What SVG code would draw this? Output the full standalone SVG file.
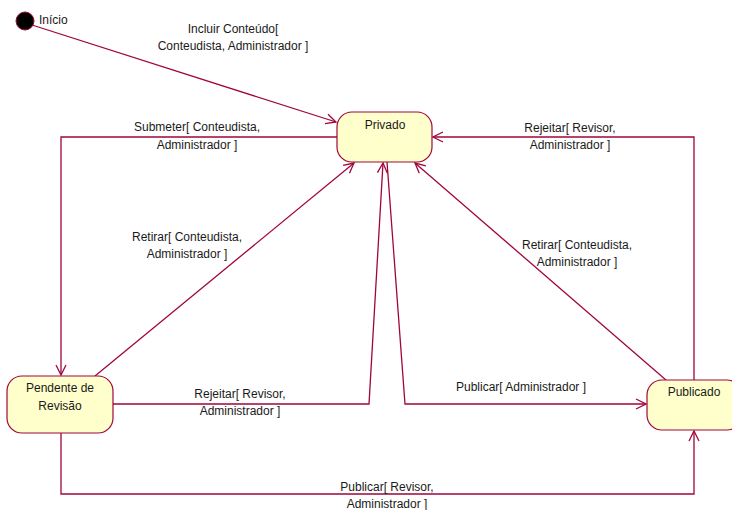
<svg xmlns="http://www.w3.org/2000/svg" width="732" height="510" viewBox="0 0 732 510">
<style>
.node{fill:#FFFFCC;stroke:#A0063C;stroke-width:1.2}
.edge{fill:none;stroke:#A0063C;stroke-width:1.3;marker-end:url(#arr)}
text{font-family:"Liberation Sans",Arial,sans-serif;font-size:12px;fill:#1a1a1a;text-anchor:middle}
</style>
<defs>
<marker id="arr" viewBox="0 0 12 12" refX="11" refY="6" markerWidth="12" markerHeight="12" markerUnits="userSpaceOnUse" orient="auto">
<path d="M1,1 L11,6 L1,11" fill="none" stroke="#A0063C" stroke-width="1.3"/>
</marker>
</defs>
<rect width="732" height="510" fill="#fff"/>
<g id="edges">
<path class="edge" d="M32,25 L336,122"/>
<path class="edge" d="M337,137 L61,137 L61,375"/>
<path class="edge" d="M95,376 L354,163"/>
<path class="edge" d="M113,404 L369,404 L383,163"/>
<path class="edge" d="M387,162 L405,404 L646,404"/>
<path class="edge" d="M694,380 L694,137 L433,137"/>
<path class="edge" d="M666,380 L415,163"/>
<path class="edge" d="M61,433 L61,494 L694,494 L694,431"/>
</g>
<g id="labels">
<text x="233" y="33">Incluir Conteúdo[</text>
<text x="233" y="50">Conteudista, Administrador ]</text>
<text x="197" y="131">Submeter[ Conteudista,</text>
<text x="197" y="149">Administrador ]</text>
<text x="570" y="132">Rejeitar[ Revisor,</text>
<text x="570" y="149">Administrador ]</text>
<text x="187" y="241">Retirar[ Conteudista,</text>
<text x="187" y="258">Administrador ]</text>
<text x="577" y="249">Retirar[ Conteudista,</text>
<text x="577" y="266">Administrador ]</text>
<text x="240" y="398">Rejeitar[ Revisor,</text>
<text x="240" y="415">Administrador ]</text>
<text x="521" y="391">Publicar[ Administrador ]</text>
<text x="387" y="491">Publicar[ Revisor,</text>
<text x="387" y="508">Administrador ]</text>
</g>
<g id="inicio">
<circle cx="25" cy="21" r="9" fill="#000" stroke="#A0063C" stroke-width="1"/>
<text x="39" y="24" style="text-anchor:start">Início</text>
</g>
<g id="privado">
<rect class="node" x="337" y="112" width="95" height="50" rx="15"/>
<text x="385" y="129">Privado</text>
</g>
<g id="pendente">
<rect class="node" x="7" y="376" width="106" height="57" rx="15"/>
<text x="60" y="392">Pendente de</text>
<text x="60" y="410">Revisão</text>
</g>
<g id="publicado">
<rect class="node" x="647" y="380" width="95" height="50" rx="15"/>
<text x="694" y="396">Publicado</text>
</g>
</svg>
